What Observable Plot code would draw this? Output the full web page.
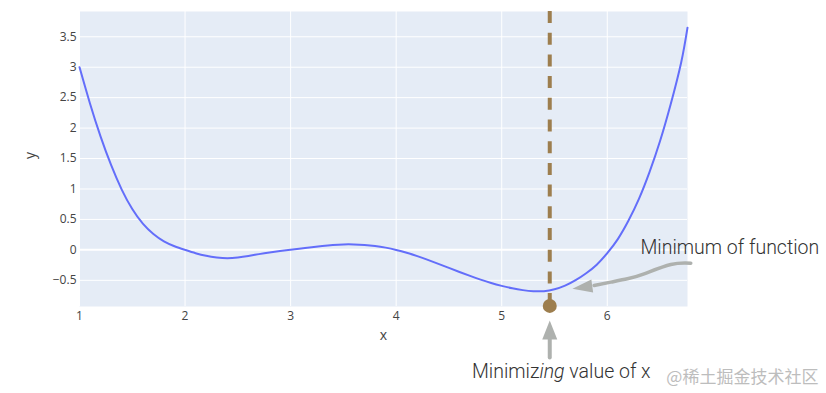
<!DOCTYPE html>
<html>
<head>
<meta charset="utf-8">
<script src="https://cdn.jsdelivr.net/npm/d3@7"></script>
<script src="https://cdn.jsdelivr.net/npm/@observablehq/plot@0.6"></script>
<style>
  html, body { margin: 0; padding: 0; background: #fff; }
  #chart { width: 826px; height: 393px; }
</style>
</head>
<body>
<div id="chart"></div>
<script>
// ---- data ----
const xs = [1.0, 1.1, 1.2, 1.3, 1.4, 1.5, 1.6, 1.7, 1.8, 1.9,
            2.0, 2.1, 2.2, 2.3, 2.4, 2.5, 2.6, 2.7, 2.8, 2.9,
            3.0, 3.1, 3.2, 3.3, 3.4, 3.5, 3.6, 3.7, 3.8, 3.9,
            4.0, 4.1, 4.2, 4.3, 4.4, 4.5, 4.6, 4.7, 4.8, 4.9,
            5.0, 5.1, 5.2, 5.3, 5.4, 5.5, 5.6, 5.7, 5.8, 5.9,
            6.0, 6.1, 6.2, 6.3, 6.4, 6.5, 6.6, 6.7, 6.76];
const ys = [3.00, 2.40, 1.86, 1.39, 0.99, 0.67, 0.43, 0.26, 0.14, 0.06,
            0.00, -0.055, -0.098, -0.125, -0.137, -0.125, -0.10, -0.07, -0.042, -0.018,
            0.003, 0.024, 0.045, 0.065, 0.081, 0.090, 0.090, 0.082, 0.065, 0.037,
            -0.001, -0.048, -0.103, -0.164, -0.229, -0.296, -0.363, -0.428, -0.489, -0.544,
            -0.591, -0.631, -0.661, -0.679, -0.678, -0.648, -0.588, -0.498, -0.383, -0.243,
            -0.053, 0.177, 0.477, 0.837, 1.277, 1.787, 2.387, 3.077, 3.65];

const xTicks = [1, 2, 3, 4, 5, 6];
const yTicks = [-0.5, 0, 0.5, 1, 1.5, 2, 2.5, 3, 3.5];
const xDomain = [1, 6.76];
const yDomain = [-0.93, 3.915];

const minX = 5.455;          // minimizing value of x (dashed line + dot)
const minDotY = -0.92;

// annotation: "Minimum of function" arrow shaft + head
const arrow1X = [6.791, 6.602, 6.349, 6.191, 6.033, 5.875];
const arrow1Y = [-0.218, -0.240, -0.393, -0.475, -0.530, -0.585];
const arrow1Tip = {x: 5.670, y: -0.639, rotate: -98};
// annotation: "Minimizing value of x" arrow shaft + head
const arrow2Y = [-1.767, -1.44];
const arrow2Tip = {x: 5.455, y: -1.159, rotate: 0};

const labelMin = "Minimum of function";
const labelMinPos = {x: 7.161, y: 0.031};
const labelArg = ["Minimiz", "ing", " value of x"];
const labelArgPos = {x: 5.569, y: -2.012};
const watermark = "@稀土掘金技术社区";
const watermarkPos = {x: 8.0, y: -2.10};

// ---- build ----
const curve = xs.map((x, i) => ({x, y: ys[i]}));
const shaft1 = arrow1X.map((x, i) => ({x, y: arrow1Y[i]}));
const shaft2 = arrow2Y.map(y => ({x: minX, y}));

const brown = "#9d7e4e";
const gray = "#aeb1ae";
const fmt = d => d3.format("~g")(d).replace("-", "\u2212");

const triShape = {
  draw(ctx, l, r) {
    ctx.moveTo(0, -l);
    ctx.lineTo(-r, 0);
    ctx.lineTo(r, 0);
    ctx.closePath();
  }
};

const mixedLabel = (index, scales) => {
  const t = d3.create("svg:text")
    .attr("x", scales.x(labelArgPos.x))
    .attr("y", scales.y(labelArgPos.y))
    .attr("dy", "0.32em")
    .attr("text-anchor", "middle")
    .attr("font-family", "Roboto")
    .attr("font-weight", 300)
    .attr("font-size", 19.5)
    .attr("fill", "#333");
  labelArg.forEach((s, i) => {
    t.append("tspan").attr("font-style", i === 1 ? "italic" : "normal").text(s);
  });
  return t.node();
};

const chart = Plot.plot({
  width: 826,
  height: 393,
  marginLeft: 79,
  marginRight: 139,
  marginTop: 11,
  marginBottom: 87,
  style: {fontFamily: "'Open Sans', sans-serif", fontSize: "12px", color: "#444", background: "#fff", overflow: "visible"},
  x: {domain: xDomain},
  y: {domain: yDomain},
  marks: [
    Plot.frame({fill: "#e5ecf6", stroke: null}),
    Plot.gridX(xTicks, {stroke: "#fff", strokeOpacity: 1, strokeWidth: 1}),
    Plot.gridY(yTicks.filter(d => d !== 0), {stroke: "#fff", strokeOpacity: 1, strokeWidth: 1}),
    Plot.ruleY([0], {stroke: "#fff", strokeWidth: 2}),
    Plot.axisX({ticks: xTicks, tickFormat: fmt, tickSize: 0, tickPadding: 5, label: null, fill: "#444", fontSize: 12}),
    Plot.axisY({ticks: yTicks, tickFormat: fmt, tickSize: 0, tickPadding: 3, label: null, fill: "#444", fontSize: 12}),
    Plot.text(["x"], {frameAnchor: "bottom", dy: 33, fontSize: 14, fill: "#444"}),
    Plot.text(["y"], {frameAnchor: "left", dx: -49, rotate: -90, fontSize: 14, fill: "#444"}),
    Plot.line(curve, {x: "x", y: "y", stroke: "#636efa", strokeWidth: 2, curve: "natural"}),
    Plot.ruleX([minX], {stroke: brown, strokeWidth: 4, strokeDasharray: "12,9.7"}),
    Plot.dot([{x: minX, y: minDotY}], {x: "x", y: "y", r: 7, fill: brown, stroke: null}),
    Plot.line(shaft1, {x: "x", y: "y", stroke: gray, strokeWidth: 3.5, curve: "natural"}),
    Plot.vector([arrow1Tip], {x: "x", y: "y", rotate: "rotate", length: 20, r: 6.5, anchor: "end", shape: triShape, fill: gray, stroke: "none"}),
    Plot.line(shaft2, {x: "x", y: "y", stroke: gray, strokeWidth: 4}),
    Plot.vector([arrow2Tip], {x: "x", y: "y", rotate: "rotate", length: 19, r: 7.5, anchor: "end", shape: triShape, fill: gray, stroke: "none"}),
    Plot.text([labelMin], {x: () => labelMinPos.x, y: () => labelMinPos.y, text: d => d, fontSize: 19.5, fontFamily: "Roboto", fontWeight: 300, fill: "#333"}),
    mixedLabel,
    Plot.text([watermark], {x: () => watermarkPos.x, y: () => watermarkPos.y, text: d => d, textAnchor: "end", fontSize: 17, fontFamily: "'Noto Sans CJK SC'", fill: "#bdbdbd"})
  ]
});

document.getElementById("chart").appendChild(chart);
</script>
</body>
</html>
